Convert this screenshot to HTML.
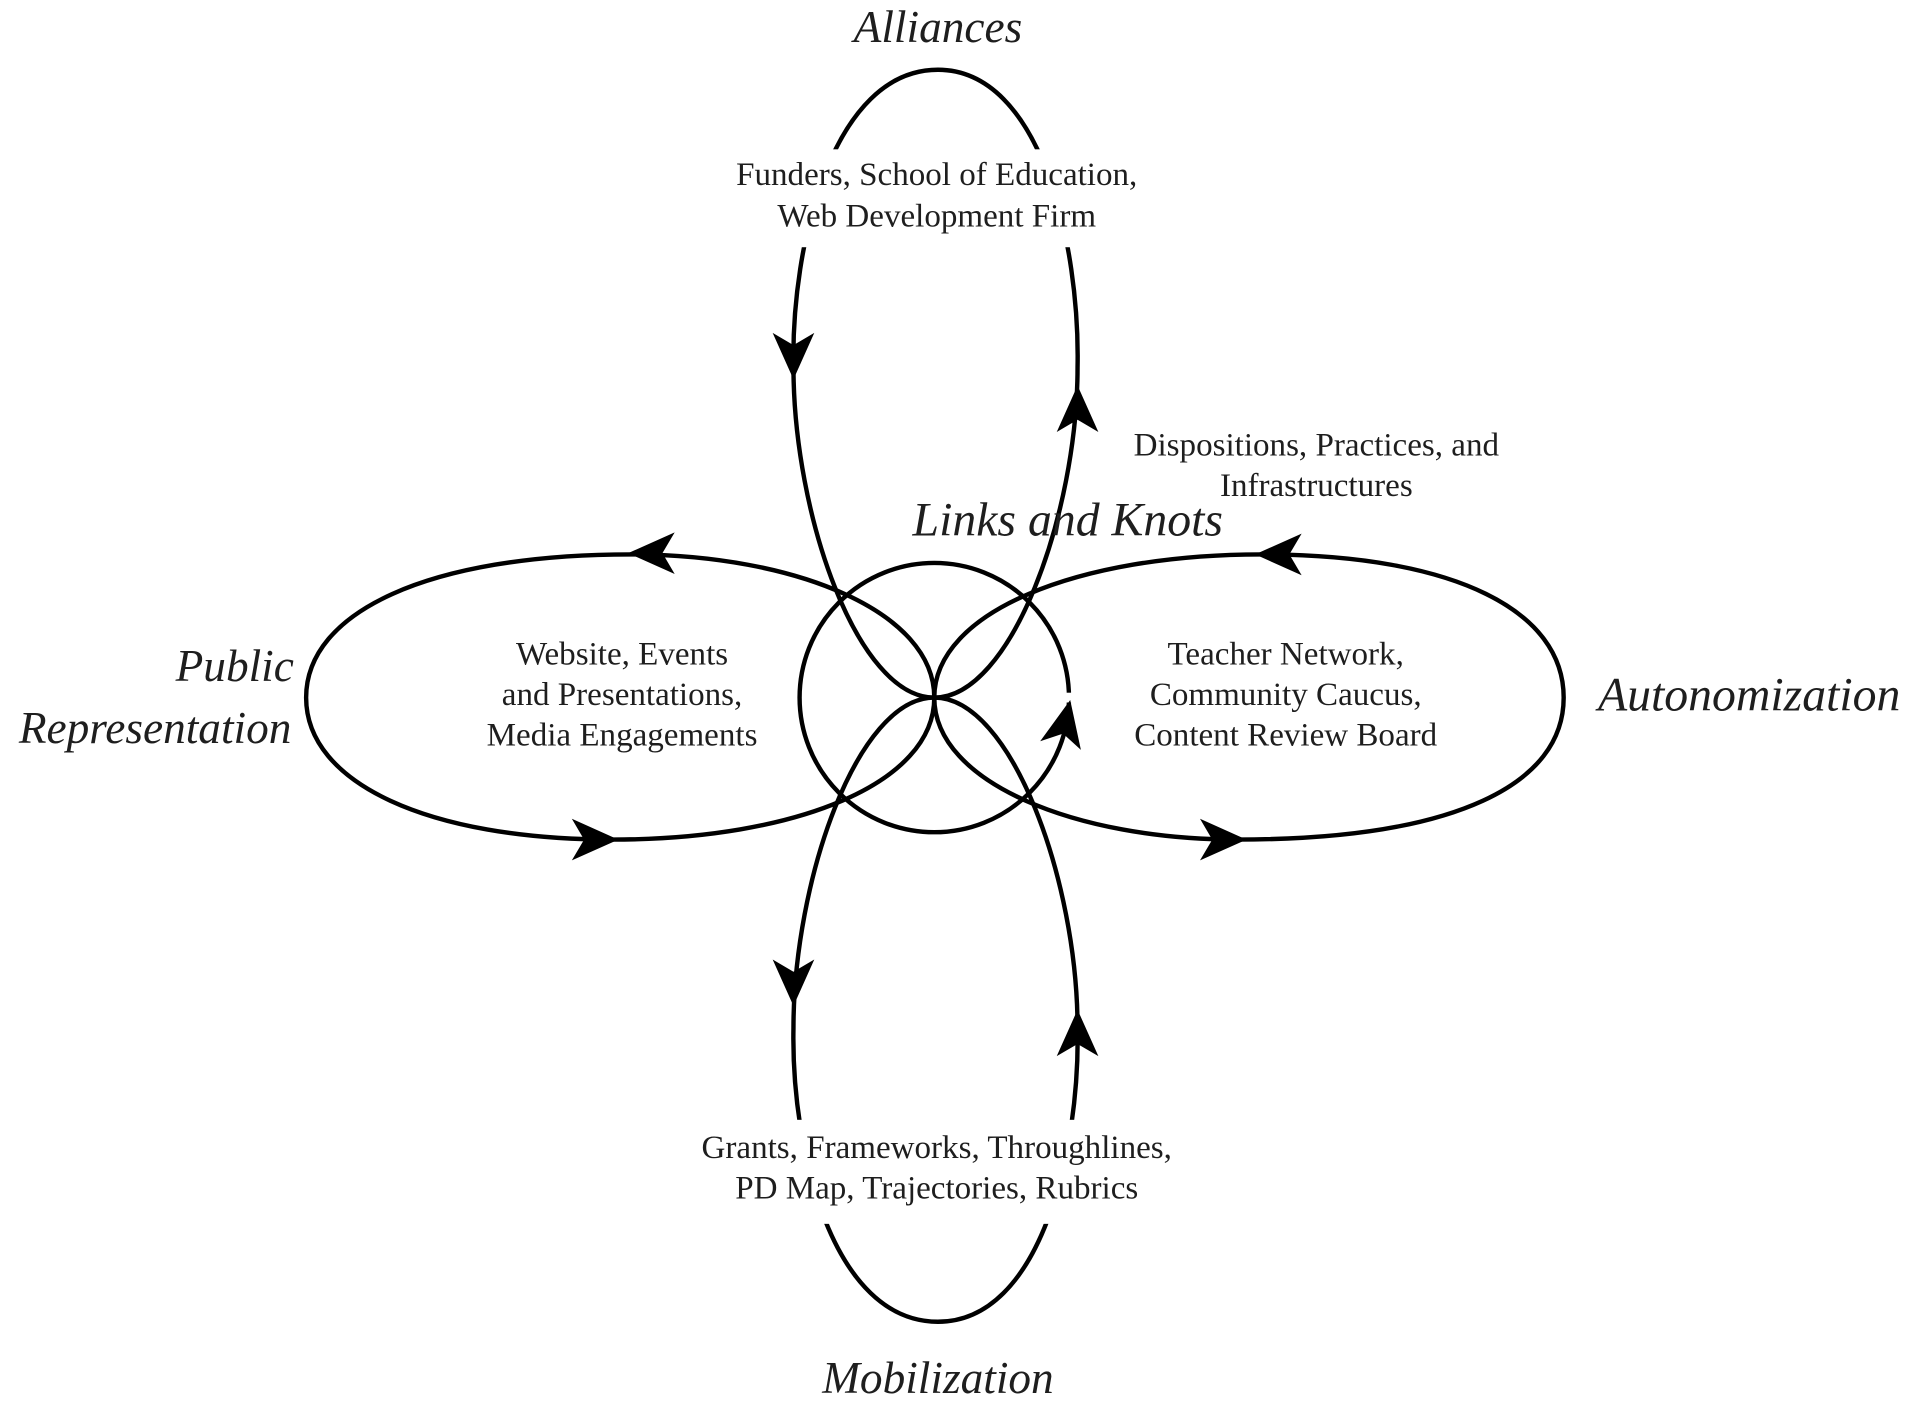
<!DOCTYPE html>
<html><head><meta charset="utf-8"><style>
html,body{margin:0;padding:0;background:#fff;}
svg{display:block;}
text{font-family:"Liberation Serif",serif;fill:#1e1e1e;}
.n{font-size:27px;}
.i{font-style:italic;}
</style></head><body>
<svg width="1920" height="1416" viewBox="0 0 1568 1157" preserveAspectRatio="none" xmlns="http://www.w3.org/2000/svg">
<defs>
<path id="ah" d="M0,0 L-38,-17 L-28,0 L-38,17 Z" fill="#000"/>
</defs>
<g fill="none" stroke="#000" stroke-width="3.6">
<circle cx="763" cy="570" r="110"/>
<path d="M763,570 C700,570 648,420 648,300 C646,200 680,57 766,57 C850,57 882,200 880,300 C880,420 826,570 763,570"/>
<path d="M763,570 C700,570 648,720 648,840 C646,940 680,1080 766,1080 C850,1080 882,940 880,840 C880,720 826,570 763,570"/>
<path d="M763,570 C763,500 650,453 515,453 C350,453 250,500 250,570 C250,640 350,686 500,686 C650,686 763,640 763,570"/>
<path d="M763,570 C763,500 880,453 1030,453 C1190,453 1277,500 1277,570 C1277,640 1190,686 1010,686 C880,686 763,640 763,570"/>
</g>
<rect x="585" y="122" width="360" height="80" fill="#fff"/>
<rect x="555" y="915" width="420" height="85" fill="#fff"/>
<rect x="868" y="566" width="10" height="8" fill="#fff"/>
<use href="#ah" transform="translate(513,452) rotate(180)"/>
<use href="#ah" transform="translate(505,686)"/>
<use href="#ah" transform="translate(1025,453) rotate(180)"/>
<use href="#ah" transform="translate(1018,686)"/>
<use href="#ah" transform="translate(648,310) rotate(90)"/>
<use href="#ah" transform="translate(880,315) rotate(-90)"/>
<use href="#ah" transform="translate(648,822) rotate(90)"/>
<use href="#ah" transform="translate(880,825) rotate(-90)"/>
<use href="#ah" transform="translate(874,572) rotate(-78)"/>
<g text-anchor="middle" dominant-baseline="central">
<text class="i" x="766" y="22" font-size="37">Alliances</text>
<text class="i" x="766" y="1126" font-size="37">Mobilization</text>
<text class="i" x="872" y="425" font-size="39">Links and Knots</text>
<text class="n" x="765" y="143">Funders, School of Education,</text>
<text class="n" x="765" y="177">Web Development Firm</text>
<text class="n" x="1075" y="364">Dispositions, Practices, and</text>
<text class="n" x="1075" y="397">Infrastructures</text>
<text class="n" x="508" y="535">Website, Events</text>
<text class="n" x="508" y="568">and Presentations,</text>
<text class="n" x="508" y="601">Media Engagements</text>
<text class="n" x="1050" y="535">Teacher Network,</text>
<text class="n" x="1050" y="568">Community Caucus,</text>
<text class="n" x="1050" y="601">Content Review Board</text>
<text class="n" x="765" y="938">Grants, Frameworks, Throughlines,</text>
<text class="n" x="765" y="971">PD Map, Trajectories, Rubrics</text>
</g>
<g dominant-baseline="central">
<text class="i" x="240" y="544" font-size="37" text-anchor="end">Public</text>
<text class="i" x="238" y="595" font-size="37" text-anchor="end">Representation</text>
<text class="i" x="1305" y="568" font-size="39">Autonomization</text>
</g>
</svg>
</body></html>
